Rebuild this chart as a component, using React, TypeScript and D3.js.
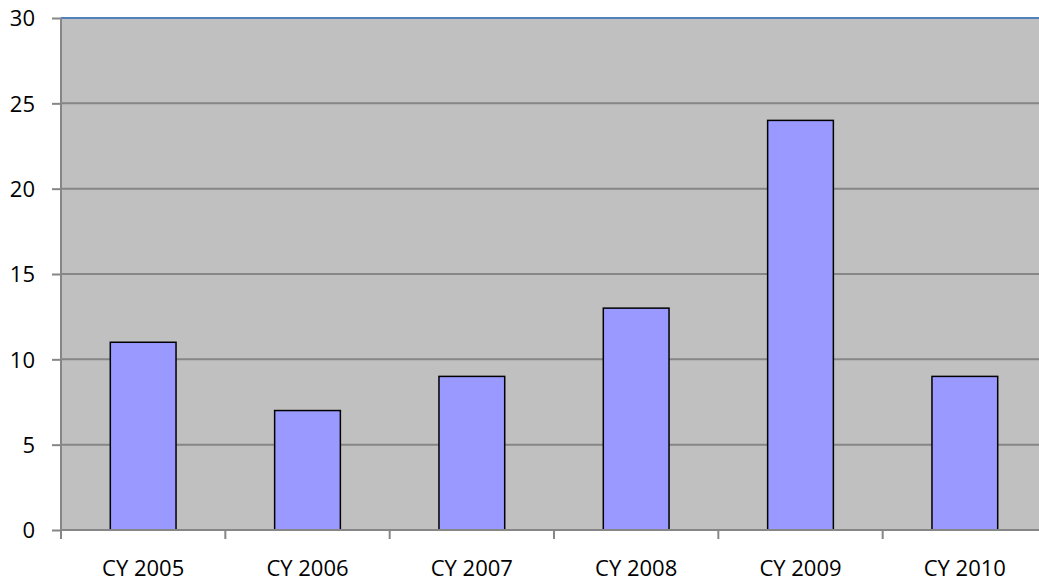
import React, { useEffect, useRef } from 'react';
import * as d3 from 'd3';

const width = 1039;
const height = 583;

const categories = ['CY 2005', 'CY 2006', 'CY 2007', 'CY 2008', 'CY 2009', 'CY 2010'];
const values = [11, 7, 9, 13, 24, 9];
const yTicks = [0, 5, 10, 15, 20, 25, 30];

const plot = { left: 61, top: 18, right: 1047, bottom: 530 };

const App = () => {
  const svgRef = useRef<SVGSVGElement>(null);

  useEffect(() => {
    const svg = d3.select(svgRef.current);
    svg.selectAll('*').remove();

    const x = d3.scaleBand<string>()
      .domain(categories)
      .range([plot.left, plot.right])
      .paddingInner(0.6)
      .paddingOuter(0.3);

    const y = d3.scaleLinear()
      .domain([0, 30])
      .range([plot.bottom, plot.top]);

    const font = '"Open Sans", sans-serif';

    svg.append('rect')
      .attr('x', plot.left)
      .attr('y', plot.top)
      .attr('width', plot.right - plot.left)
      .attr('height', plot.bottom - plot.top)
      .attr('fill', '#c0c0c0');

    // gridlines
    svg.append('g')
      .selectAll('line')
      .data(yTicks.filter(d => d > 0 && d < 30))
      .join('line')
      .attr('x1', plot.left)
      .attr('x2', plot.right)
      .attr('y1', d => y(d))
      .attr('y2', d => y(d))
      .attr('stroke', '#868686')
      .attr('stroke-width', 2);

    // top border
    svg.append('line')
      .attr('x1', plot.left)
      .attr('x2', plot.right)
      .attr('y1', y(30))
      .attr('y2', y(30))
      .attr('stroke', '#4f81bd')
      .attr('stroke-width', 2);

    // bars
    svg.append('g')
      .selectAll('rect')
      .data(values)
      .join('rect')
      .attr('x', (d, i) => x(categories[i])!)
      .attr('y', d => y(d))
      .attr('width', x.bandwidth())
      .attr('height', d => y(0) - y(d))
      .attr('fill', '#9999ff')
      .attr('stroke', '#000')
      .attr('stroke-width', 1.5);

    // y axis
    const yAxis = svg.append('g').attr('transform', `translate(${plot.left},0)`)
      .call(d3.axisLeft(y).tickValues(yTicks).tickSize(9).tickPadding(17).tickFormat(d3.format('d')));
    yAxis.select('.domain').attr('stroke', '#868686').attr('stroke-width', 2)
      .attr('d', `M0,${plot.top}V${plot.bottom}`);
    yAxis.selectAll('.tick line').attr('stroke', '#868686').attr('stroke-width', 2);
    yAxis.selectAll('.tick text')
      .attr('font-family', font)
      .attr('font-size', 22)
      .attr('fill', '#000')
      .attr('dy', '0.36em');

    // x axis
    const xAxis = svg.append('g').attr('transform', `translate(0,${plot.bottom})`);
    xAxis.append('line')
      .attr('x1', plot.left)
      .attr('x2', plot.right)
      .attr('stroke', '#868686')
      .attr('stroke-width', 2);
    xAxis.selectAll('line.tick')
      .data(categories)
      .join('line')
      .attr('class', 'tick')
      .attr('x1', d => x(d)! - x.step() * 0.3)
      .attr('x2', d => x(d)! - x.step() * 0.3)
      .attr('y1', 0)
      .attr('y2', 9)
      .attr('stroke', '#868686')
      .attr('stroke-width', 2);
    xAxis.selectAll('text')
      .data(categories)
      .join('text')
      .attr('x', d => x(d)! + x.bandwidth() / 2)
      .attr('y', 46)
      .attr('text-anchor', 'middle')
      .attr('font-family', font)
      .attr('font-size', 22)
      .attr('fill', '#000')
      .text(d => d);
  }, []);

  return (
    <svg ref={svgRef} width={width} height={height}
      style={{ position: 'absolute', left: 0, top: 0, background: '#fff' }} />
  );
};

export default App;
